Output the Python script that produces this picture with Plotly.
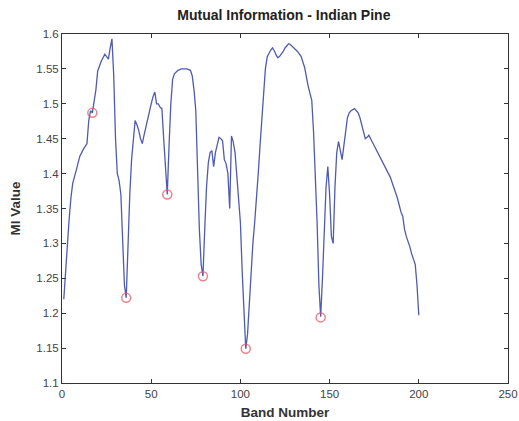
import plotly.graph_objects as go

band = [1, 2, 3, 4, 5, 6, 8, 10, 12, 14, 15, 16, 17, 18, 19, 20, 22, 24, 26, 27, 28, 29, 30, 31, 32, 33, 34, 35, 36,
        37, 38, 39, 40, 41, 42, 43, 44, 45, 46, 48, 50, 51, 52, 53, 54, 55, 56, 57, 58, 59,
        60, 61, 62, 63, 65, 67, 70, 72, 73, 74, 75, 76, 77, 78, 79,
        80, 81, 82, 83, 84, 85, 86, 87, 88, 89, 90, 91, 92, 93, 94, 95, 96, 97, 98, 99, 100, 101, 102, 103,
        104, 105, 106, 107, 108, 109, 110, 111, 112, 113, 114, 115, 116, 117, 118, 119, 120, 121, 122, 123, 124,
        125, 126, 127, 128, 129, 130, 132, 134, 136, 137, 138, 139, 140, 141, 142, 143, 144, 145,
        146, 147, 148, 149, 150, 151, 152, 153, 154, 155, 156, 157, 158, 159, 160, 161, 162, 164, 166, 167, 168,
        170, 171, 172, 174, 176, 178, 180, 182, 184, 186, 188, 190, 191, 192, 193, 195, 196, 198, 199, 200]
mi = [1.22, 1.26, 1.31, 1.335, 1.365, 1.386, 1.405, 1.425, 1.435, 1.443, 1.476, 1.49, 1.487, 1.505, 1.52, 1.547,
      1.561, 1.571, 1.564, 1.58, 1.593, 1.54, 1.45, 1.40, 1.39, 1.37, 1.30, 1.24, 1.222,
      1.30, 1.37, 1.42, 1.455, 1.476, 1.47, 1.462, 1.45, 1.443, 1.455, 1.48, 1.50, 1.51, 1.517, 1.50, 1.50, 1.495,
      1.493, 1.45, 1.40, 1.37,
      1.44, 1.50, 1.535, 1.543, 1.548, 1.55, 1.55, 1.548, 1.54, 1.52, 1.49, 1.40, 1.32, 1.27, 1.253,
      1.32, 1.38, 1.415, 1.43, 1.433, 1.41, 1.43, 1.44, 1.452, 1.45, 1.447, 1.42, 1.414, 1.40, 1.35, 1.454, 1.445,
      1.43, 1.40, 1.37, 1.33, 1.26, 1.19, 1.149,
      1.17, 1.22, 1.26, 1.30, 1.33, 1.36, 1.40, 1.44, 1.48, 1.52, 1.55, 1.567, 1.573, 1.577, 1.58, 1.576, 1.57,
      1.566, 1.568, 1.571, 1.575,
      1.58, 1.583, 1.586, 1.585, 1.583, 1.58, 1.575, 1.568, 1.552, 1.537, 1.525, 1.515, 1.505, 1.46, 1.40, 1.33,
      1.24, 1.195,
      1.25, 1.32, 1.38, 1.41, 1.37, 1.31, 1.30, 1.38, 1.43, 1.446, 1.43, 1.42, 1.44, 1.465, 1.48, 1.487, 1.49,
      1.493, 1.487, 1.48, 1.47,
      1.45, 1.452, 1.455, 1.445, 1.435, 1.425, 1.415, 1.405, 1.395, 1.38, 1.365, 1.345, 1.339, 1.32, 1.31, 1.295,
      1.285, 1.27, 1.24, 1.197]

sel_band = [17, 36, 59, 79, 103, 145]
sel_mi = [1.487, 1.222, 1.37, 1.253, 1.149, 1.194]

x_ticks = [0, 50, 100, 150, 200, 250]
y_ticks = [1.1, 1.15, 1.2, 1.25, 1.3, 1.35, 1.4, 1.45, 1.5, 1.55, 1.6]
y_tick_text = ["1.1", "1.15", "1.2", "1.25", "1.3", "1.35", "1.4", "1.45", "1.5", "1.55", "1.6"]

fig = go.Figure()
fig.add_trace(go.Scatter(x=band, y=mi, mode="lines",
                         line=dict(color="#4f5bb3", width=1.3), showlegend=False))
fig.add_trace(go.Scatter(x=sel_band, y=sel_mi, mode="markers",
                         marker=dict(symbol="circle-open", size=9, color="rgba(225,90,100,0.75)",
                                     line=dict(width=1.5)), showlegend=False))

font = "Liberation Sans, Arial, sans-serif"
axis_common = dict(showline=True, linecolor="#333", linewidth=1, mirror="ticks", ticks="inside",
                   ticklen=4, tickcolor="#333", showgrid=False, zeroline=False, automargin=False,
                   tickfont=dict(family=font, size=11.5, color="#444"))
fig.update_layout(
    width=519, height=421,
    margin=dict(l=62, r=11, t=34, b=38),
    paper_bgcolor="white", plot_bgcolor="white",
    title=dict(text="<b>Mutual Information - Indian Pine</b>", x=0.547, xanchor="center",
               y=1 - 15 / 421, yanchor="middle", yref="container",
               font=dict(family=font, size=14, color="#222")),
    xaxis=dict(range=[0, 250], tickvals=x_ticks,
               title=dict(text="<b>Band Number</b>", standoff=8,
                          font=dict(family=font, size=13.5, color="#333")), **axis_common),
    yaxis=dict(range=[1.1, 1.6], tickvals=y_ticks, ticktext=y_tick_text,
               title=dict(text="<b>MI Value</b>", standoff=12,
                          font=dict(family=font, size=13.5, color="#333")), **axis_common),
)
fig.write_html("out.html")
